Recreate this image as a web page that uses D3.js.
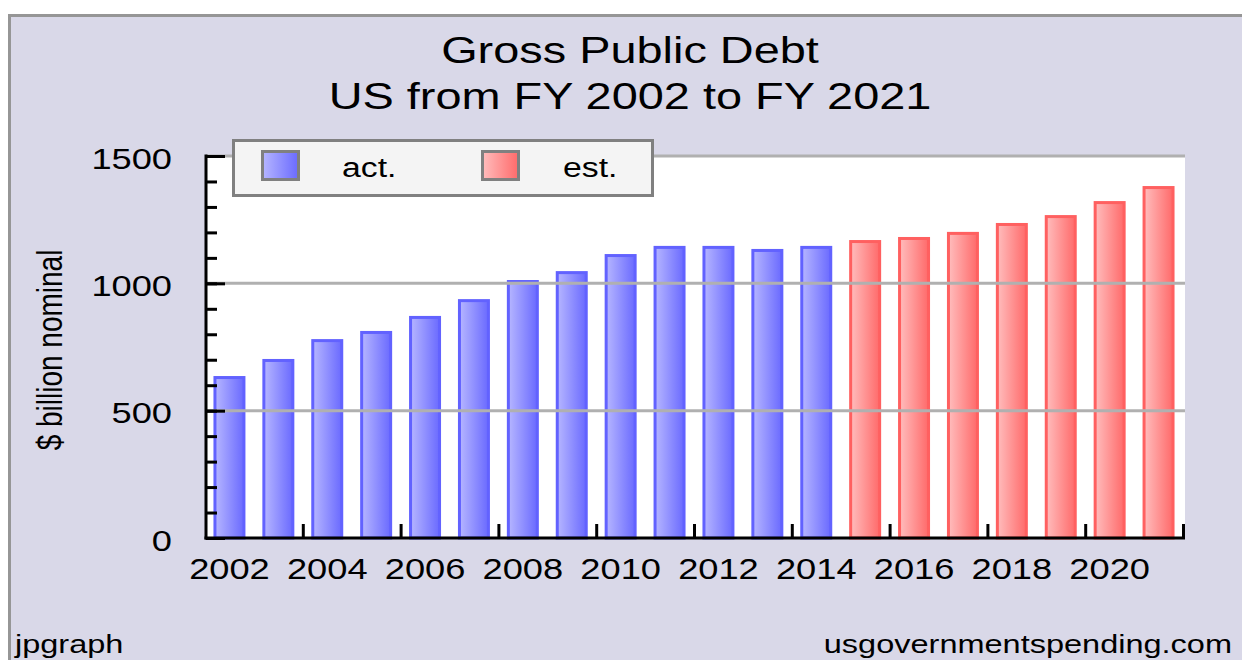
<!DOCTYPE html>
<html>
<head>
<meta charset="utf-8">
<script src="https://cdn.jsdelivr.net/npm/d3@7"></script>
<style>
  html, body { margin: 0; padding: 0; background: #ffffff; }
  svg { display: block; }
  text { font-family: "Liberation Sans", Arial, sans-serif; fill: #000; }
</style>
</head>
<body>
<svg id="chart" width="1242" height="660"></svg>
<script>
// Gross public debt, $ billion nominal, fiscal years 2002-2021
const years = [2002, 2003, 2004, 2005, 2006, 2007, 2008, 2009, 2010, 2011,
               2012, 2013, 2014, 2015, 2016, 2017, 2018, 2019, 2020, 2021];
const debt = [636, 703, 781, 813, 872, 938, 1013, 1048, 1115, 1147,
              1147, 1135, 1147, 1170, 1182, 1202, 1237, 1268, 1323, 1382];
const kind = ['act', 'act', 'act', 'act', 'act', 'act', 'act', 'act', 'act', 'act',
              'act', 'act', 'act', 'est', 'est', 'est', 'est', 'est', 'est', 'est'];
const legendKeys = ['act', 'est'];
const legendLabels = ['act.', 'est.'];
const yMajorTicks = [0, 500, 1000, 1500];
const xLabelYears = [2002, 2004, 2006, 2008, 2010, 2012, 2014, 2016, 2018, 2020];
const titleLines = ['Gross Public Debt', 'US from FY 2002 to FY 2021'];
const yTitle = '$ billion nominal';

const W = 1242, H = 660;
const SX = 1.25; // horizontal stretch of all lettering
const plot = { left: 206, right: 1185, top: 156, bottom: 538 };

const svg = d3.select('#chart');

// colour ramps for the bar fills
const palette = {
  act: { stroke: '#6262ff', light: '#b6b6ff', dark: '#6a6aff' },
  est: { stroke: '#ff6060', light: '#ffbdbd', dark: '#ff6a6a' }
};
const defs = svg.append('defs');
Object.entries(palette).forEach(([k, c]) => {
  const g = defs.append('linearGradient').attr('id', 'grad-' + k)
    .attr('x1', '0%').attr('x2', '100%').attr('y1', '0%').attr('y2', '0%');
  g.append('stop').attr('offset', '0%').attr('stop-color', c.light);
  g.append('stop').attr('offset', '100%').attr('stop-color', c.dark);
});

// stretched text helper
function label(parent, x, y, str, size, anchor) {
  return parent.append('text')
    .attr('transform', `translate(${x},${y}) scale(${SX},1)`)
    .attr('text-anchor', anchor || 'start')
    .style('font-size', size + 'px')
    .text(str);
}

// outer frame
svg.append('rect')
  .attr('x', 9.5).attr('y', 15.5).attr('width', 1400).attr('height', 800)
  .attr('fill', '#d9d8e8').attr('stroke', '#969696').attr('stroke-width', 3);

// plot area
svg.append('rect')
  .attr('x', plot.left).attr('y', plot.top)
  .attr('width', plot.right - plot.left).attr('height', plot.bottom - plot.top)
  .attr('fill', '#ffffff');

// scales
const y = d3.scaleLinear().domain([0, 1500]).range([plot.bottom, plot.top]);
const x = d3.scaleBand().domain(years).range([205, 1183])
  .paddingInner(0.346).paddingOuter(0.173);
const slot = d3.scaleLinear().domain([0, years.length]).range([205, 1183]);

// bars
const data = years.map((yr, i) => ({ year: yr, value: debt[i], kind: kind[i] }));
svg.append('g').selectAll('rect').data(data).join('rect')
  .attr('x', d => x(d.year) + 1.5)
  .attr('width', x.bandwidth() - 3)
  .attr('y', d => y(d.value) + 1.5)
  .attr('height', d => y(0) - y(d.value) - 1.5)
  .attr('fill', d => `url(#grad-${d.kind})`)
  .attr('stroke', d => palette[d.kind].stroke)
  .attr('stroke-width', 3);

// horizontal grid lines (drawn over bars)
svg.append('g').selectAll('line').data(yMajorTicks.filter(v => v > 0)).join('line')
  .attr('x1', plot.left).attr('x2', plot.right)
  .attr('y1', d => y(d)).attr('y2', d => y(d))
  .attr('stroke', '#b0b0b0').attr('stroke-width', 3);

// y axis: minor ticks, major ticks, labels
const yAxisG = svg.append('g').attr('transform', `translate(${plot.left},0)`);
yAxisG.append('g')
  .call(d3.axisRight(y).tickValues(d3.range(0, 1501, 100)).tickSize(11).tickFormat(''))
  .call(g => g.select('.domain').remove())
  .call(g => g.selectAll('line').attr('stroke', '#000').attr('stroke-width', 3));
yAxisG.append('g')
  .call(d3.axisRight(y).tickValues(yMajorTicks).tickSize(19).tickFormat(''))
  .call(g => g.select('.domain').remove())
  .call(g => g.selectAll('line').attr('stroke', '#000').attr('stroke-width', 3));
yAxisG.append('line')
  .attr('x1', 0).attr('x2', 0).attr('y1', plot.top - 1.5).attr('y2', plot.bottom + 1.5)
  .attr('stroke', '#000').attr('stroke-width', 3);
const yLabels = yAxisG.append('g')
  .call(d3.axisLeft(y).tickValues(yMajorTicks).tickSize(0).tickFormat(d3.format('d')))
  .call(g => g.select('.domain').remove());
yLabels.selectAll('text')
  .attr('x', 0).attr('dy', '0.42em')
  .attr('transform', `translate(-34,0) scale(${SX},1)`)
  .attr('font-family', null).attr('font-size', null)
  .style('font-size', '29px').attr('fill', '#000');
yLabels.attr('font-family', null).attr('font-size', null);

// x axis: line, ticks every two years, labels
const xAxisG = svg.append('g').attr('transform', `translate(0,${plot.bottom})`);
xAxisG.append('g')
  .call(d3.axisBottom(slot).tickValues(d3.range(2, years.length + 1, 2)).tickSize(-14).tickFormat(''))
  .call(g => g.select('.domain').remove())
  .call(g => g.selectAll('line').attr('stroke', '#000').attr('stroke-width', 3));
xAxisG.append('line')
  .attr('x1', plot.left - 1.5).attr('x2', plot.right).attr('y1', 0).attr('y2', 0)
  .attr('stroke', '#000').attr('stroke-width', 3);
const xLabels = xAxisG.append('g')
  .call(d3.axisBottom(x).tickValues(xLabelYears).tickSize(0).tickFormat(d3.format('d')))
  .call(g => g.select('.domain').remove());
xLabels.attr('font-family', null).attr('font-size', null);
xLabels.selectAll('text')
  .attr('y', 0).attr('dy', null)
  .attr('transform', `translate(0,41) scale(${SX},1)`)
  .style('font-size', '29px').attr('fill', '#000');

// titles
label(svg, 630, 63, titleLines[0], 37.5, 'middle');
label(svg, 630, 109, titleLines[1], 37.5, 'middle');

// y axis title
svg.append('text')
  .attr('transform', `translate(62,350) rotate(-90) scale(1,${SX})`)
  .attr('text-anchor', 'middle')
  .style('font-size', '28px')
  .text(yTitle);

// legend
const legend = svg.append('g');
legend.append('rect')
  .attr('x', 233.5).attr('y', 140.5).attr('width', 419).attr('height', 55)
  .attr('fill', '#f4f4f4').attr('stroke', '#808080').attr('stroke-width', 3);
const legendX = [262.5, 482.5];
const legendTextX = [342, 563];
legendKeys.forEach((k, i) => {
  legend.append('rect')
    .attr('x', legendX[i]).attr('y', 151.5).attr('width', 36).attr('height', 28)
    .attr('fill', `url(#grad-${k})`).attr('stroke', '#808080').attr('stroke-width', 3);
  label(legend, legendTextX[i], 177, legendLabels[i], 27, 'start');
});

// footer credits
label(svg, 15, 653, 'jpgraph', 26, 'start');
label(svg, 1232, 653, 'usgovernmentspending.com', 26, 'end');
</script>
</body>
</html>
